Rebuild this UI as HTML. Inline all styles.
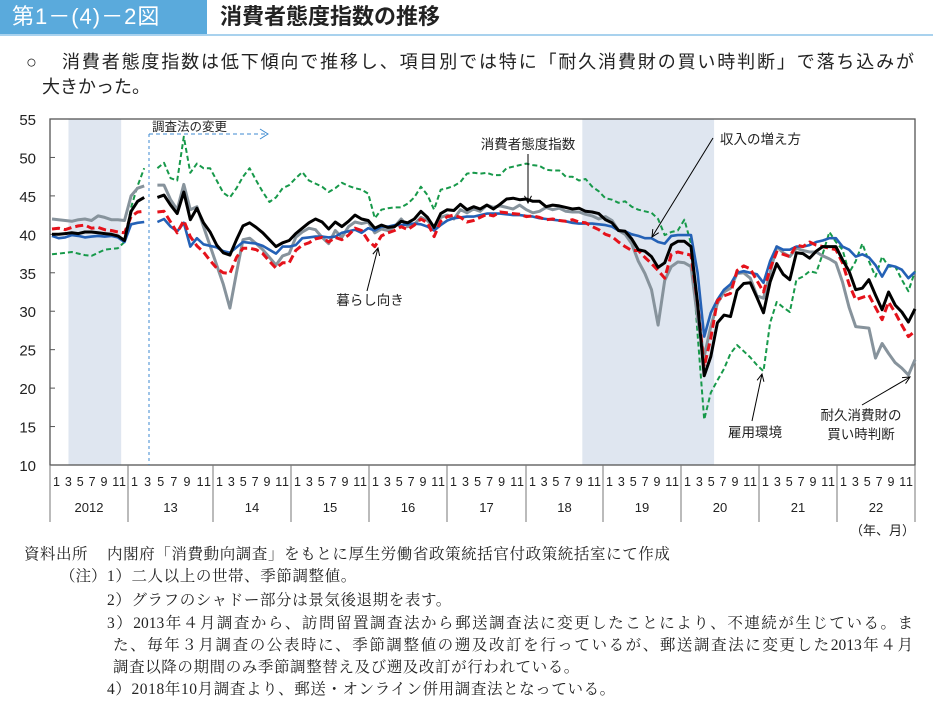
<!DOCTYPE html>
<html><head><meta charset="utf-8">
<style>
body{margin:0;width:933px;height:714px;background:#fff;overflow:hidden;position:relative;font-family:"Liberation Sans","Noto Sans CJK JP",sans-serif;}
.hdr{position:absolute;left:0;top:0;width:207px;height:34px;background:#5aaadc;color:#fff;font-size:22px;line-height:34px;padding-left:12px;box-sizing:border-box;letter-spacing:1px}
.ttl{position:absolute;left:220px;top:0;height:34px;line-height:34px;font-size:22px;color:#222;font-weight:bold}
.rule{position:absolute;left:0;top:34px;width:933px;height:2px;background:#a9d2ee}
.sum{position:absolute;top:50px;font-size:18px;line-height:25px;color:#222;white-space:nowrap}
.fl{position:absolute;font-family:"Liberation Serif","Noto Serif CJK SC",serif;font-size:15.5px;line-height:20px;color:#222;white-space:nowrap}
.just{text-align:justify;text-align-last:justify;white-space:normal}
svg{position:absolute;left:0;top:0}
</style></head><body>
<div class="hdr">第1－(4)－2図</div>
<div class="ttl">消費者態度指数の推移</div>
<div class="rule"></div>
<div class="sum" style="left:26px">○</div>
<div class="sum" style="left:62px;width:852px;text-align:justify;text-align-last:justify;white-space:normal;height:25px;overflow:hidden">消費者態度指数は低下傾向で推移し、項目別では特に「耐久消費財の買い時判断」で落ち込みが</div>
<div class="sum" style="left:42px;top:75px">大きかった。</div>
<svg id="chart" width="933" height="714"></svg>
<div>
<div class="fl" style="left:24px;top:545px;letter-spacing:0.5px">資料出所</div>
<div class="fl" style="left:107px;top:545px;letter-spacing:0.6px">内閣府「消費動向調査」をもとに厚生労働省政策統括官付政策統括室にて作成</div>
<div class="fl" style="left:60px;top:567px">（注）</div>
<div class="fl" style="left:107px;top:567px;letter-spacing:0.6px">1）二人以上の世帯、季節調整値。</div>
<div class="fl" style="left:107px;top:591px;letter-spacing:0.6px">2）グラフのシャドー部分は景気後退期を表す。</div>
<div class="fl just" style="left:107px;top:614px;width:806px;height:20px">3）2013年４月調査から、訪問留置調査法から郵送調査法に変更したことにより、不連続が生じている。ま</div>
<div class="fl just" style="left:113px;top:636px;width:800px;height:20px">た、毎年３月調査の公表時に、季節調整値の遡及改訂を行っているが、郵送調査法に変更した2013年４月</div>
<div class="fl" style="left:113px;top:658px;letter-spacing:0.6px">調査以降の期間のみ季節調整替え及び遡及改訂が行われている。</div>
<div class="fl" style="left:107px;top:680px;letter-spacing:0.6px">4）2018年10月調査より、郵送・オンライン併用調査法となっている。</div>
</div>
<script>
const years = ["2012","13","14","15","16","17","18","19","20","21","22"];
const monthTicks = ["1","3","5","7","9","11"];
const yTicks = [10,15,20,25,30,35,40,45,50,55];
const recessions = [[3,10],[81,100]];
const N = null;
const totalIndex = [40.0,40.0,40.1,40.2,40.1,40.3,40.3,40.2,40.1,40.0,39.8,39.2,
43.0,44.3,44.8,N,44.8,45.1,43.8,42.7,45.5,41.9,43.4,41.5,
40.3,38.6,37.6,37.3,39.3,41.1,41.5,40.9,40.2,39.3,38.4,38.9,
39.2,40.1,40.8,41.5,42.0,41.6,40.7,41.6,41.0,41.7,42.5,42.0,
41.8,40.8,41.2,40.9,41.0,41.7,41.5,42.0,43.0,42.2,40.9,42.7,
43.2,43.1,43.9,43.2,43.6,43.3,43.8,43.3,43.9,44.6,44.7,44.5,
44.6,44.3,44.3,43.6,43.8,43.7,43.5,43.3,43.4,43.0,42.9,42.7,
41.9,41.5,40.5,40.4,39.4,38.0,37.8,37.1,35.7,36.3,38.6,39.1,
39.1,38.4,31.0,21.6,24.1,28.5,29.5,29.3,32.7,33.6,33.7,31.8,
29.8,33.8,36.2,34.8,34.1,37.6,37.5,36.9,37.8,38.4,38.4,38.4,
36.7,35.2,32.8,33.0,34.1,32.1,30.2,32.5,30.8,29.9,28.6,30.3];
const durables = [42.0,41.9,41.8,41.7,41.9,42.0,41.8,42.4,42.2,41.9,41.9,41.8,
45.0,46.0,46.3,N,46.4,46.4,44.5,43.2,46.5,43.2,43.6,41.0,
38.5,36.0,33.5,30.4,35.0,39.3,39.5,38.8,38.0,37.0,36.0,37.2,
37.5,39.6,40.3,40.8,40.6,39.6,38.8,40.5,39.6,41.0,41.6,41.4,
41.6,40.2,40.7,40.5,41.0,42.0,41.0,41.3,42.2,41.8,40.8,42.2,
42.5,42.0,43.2,42.8,43.3,43.0,43.8,43.5,43.7,43.5,43.3,43.8,
43.2,42.8,43.0,43.5,43.2,43.4,43.0,42.9,42.9,42.6,42.4,42.0,
42.3,41.8,40.5,40.0,38.8,36.5,34.9,32.8,28.2,34.0,35.8,36.4,
36.3,35.8,29.0,24.1,28.0,31.0,32.5,33.0,34.9,35.0,34.3,32.0,
31.7,35.0,38.4,37.6,37.1,38.2,37.9,37.7,37.7,37.2,36.8,36.3,
33.8,30.5,28.0,27.9,27.8,23.9,25.8,24.5,23.3,22.6,21.7,23.7];
const livelihood = [40.7,40.8,40.6,40.9,41.1,41.2,40.8,40.9,40.6,40.5,40.3,40.2,
42.3,42.9,43.0,N,42.9,43.0,41.6,40.2,41.8,39.7,38.5,37.7,
36.6,35.6,35.0,34.9,37.0,38.2,38.2,38.0,37.5,36.5,35.6,36.3,
36.3,37.9,38.6,38.9,39.4,39.6,39.0,39.6,39.3,39.9,40.8,40.5,
39.2,38.4,39.8,40.2,40.5,41.0,40.6,41.2,42.0,41.5,39.7,41.7,
42.3,42.5,42.2,41.6,41.8,42.2,42.6,42.4,42.9,42.8,42.7,42.6,
42.3,42.4,42.2,41.9,42.0,41.8,41.7,41.9,41.6,41.5,41.0,40.6,
40.0,39.7,39.0,38.4,37.9,37.9,37.0,36.2,35.3,34.3,37.4,37.7,
37.5,37.3,31.0,22.8,26.5,31.4,32.0,32.3,35.3,35.9,35.5,34.0,
32.5,35.5,37.7,37.4,37.1,38.6,38.4,39.0,38.6,38.4,38.2,38.0,
36.3,33.5,31.5,31.8,32.1,30.5,28.9,31.2,29.8,28.2,26.7,27.4];
const income = [39.8,39.5,39.6,39.9,39.8,39.6,39.7,39.8,39.7,39.8,39.6,39.0,
41.3,41.5,41.6,N,41.6,42.0,41.0,40.4,41.5,38.4,39.5,38.7,
38.5,38.3,37.8,37.6,38.3,39.0,38.9,38.8,38.5,38.0,37.5,38.4,
38.4,38.6,39.5,39.6,39.7,39.7,39.6,39.7,40.2,40.4,40.6,40.2,
40.8,40.5,41.0,41.0,41.2,41.2,41.3,41.4,41.3,41.0,40.5,41.2,
41.8,42.1,42.2,42.3,42.3,42.5,42.7,42.7,42.7,42.6,42.5,42.5,
42.4,42.3,42.1,42.0,41.9,41.8,41.7,41.5,41.4,41.4,41.4,41.3,
41.2,41.0,40.5,40.4,40.0,39.8,39.5,39.5,39.0,38.8,39.8,39.9,
39.9,39.9,35.0,26.7,29.8,31.5,32.8,33.5,35.0,35.2,35.0,34.8,
33.7,36.5,38.4,38.0,38.0,38.4,38.4,38.6,39.0,39.2,39.5,39.5,
38.4,38.0,37.1,37.4,37.0,36.0,34.5,36.0,35.8,35.4,34.3,35.1];
const employment = [37.4,37.5,37.6,37.7,37.5,37.3,37.2,37.6,38.0,38.1,38.2,39.0,
43.5,46.3,48.6,N,48.6,49.3,47.3,47.0,52.7,48.0,49.2,48.6,
48.6,47.0,45.4,44.8,46.0,47.5,48.6,47.0,45.5,44.2,44.8,46.0,
46.4,47.3,48.1,47.0,46.6,46.2,45.5,46.0,46.7,46.3,46.0,45.8,
45.3,42.1,43.2,43.4,43.5,43.5,44.0,44.8,46.2,45.1,43.2,45.8,
46.0,46.3,46.8,47.9,48.0,47.9,48.0,47.7,47.7,48.6,48.8,49.0,
49.2,49.0,48.9,48.4,48.3,48.3,47.5,47.5,47.0,47.2,46.2,45.6,
44.7,44.5,44.1,44.3,43.6,43.2,43.0,42.8,42.0,39.9,40.3,40.5,
41.9,38.8,27.0,15.9,19.4,21.0,22.5,24.5,25.6,24.8,24.0,23.0,
22.2,28.5,31.2,30.5,29.9,34.1,34.5,35.2,35.0,37.5,40.3,39.0,
38.0,35.0,36.5,38.8,36.5,34.5,37.1,35.8,35.8,34.1,32.6,35.2];

const L=50,R=915,T=119,B=465;
const svg=document.getElementById('chart');
const NS='http://www.w3.org/2000/svg';
function xOf(i){return 52+i*(863/131);}
function yOf(v){return B-(v-10)*(B-T)/45;}
function mk(tag,attrs,parent){const e=document.createElementNS(NS,tag);for(const k in attrs)e.setAttribute(k,attrs[k]);(parent||svg).appendChild(e);return e;}

recessions.forEach(r=>{
  const s=mk('rect',{x:xOf(r[0])-3.3,y:T,width:xOf(r[1])-xOf(r[0])+6.6,height:B-T,fill:'#dfe6f0'});
  
  
});
const fr=mk('rect',{x:L,y:T,width:R-L,height:B-T,fill:'none',stroke:'#555','stroke-width':1.3});


yTicks.forEach(v=>{
  const y=yOf(v);
  mk('line',{x1:L,x2:L+5,y1:y,y2:y,stroke:'#555','stroke-width':1});
  const t=mk('text',{x:36,y:y+6,'text-anchor':'end','font-size':15,fill:'#222'});
  t.textContent=v;
  
  
});
const yearStarts=[50,128,213,291,369,447,526,603,681,759,837,915];
for(let k=0;k<yearStarts.length;k++){
  mk('line',{x1:yearStarts[k],x2:yearStarts[k],y1:B,y2:522,stroke:'#777','stroke-width':1});
}
years.forEach((yr,k)=>{
  const a=yearStarts[k],b=yearStarts[k+1];
  const t=mk('text',{x:(a+b)/2,y:512,'text-anchor':'middle','font-size':13,fill:'#222'});
  t.textContent=yr;
  
  
  const g=mk('text',{x:a+3,y:486,'font-size':12.5,fill:'#222',textLength:(b-a-5),lengthAdjust:'spacing'});
  g.textContent=(k===1)?"1 3  5 7 9 11":monthTicks.join(' ');
  
  
});
const unit=mk('text',{x:915,y:535,'text-anchor':'end','font-size':13,fill:'#222'});
unit.textContent='（年、月）';



const vl=mk('line',{x1:149,x2:149,y1:134,y2:B,stroke:'#3c8ad0','stroke-width':1,'stroke-dasharray':'3,3'});


mk('line',{x1:149,x2:268,y1:134,y2:134,stroke:'#3c8ad0','stroke-width':1,'stroke-dasharray':'4,3'});
mk('polyline',{points:'260,129 268,134 260,139',fill:'none',stroke:'#3c8ad0','stroke-width':1});
const st=mk('text',{x:152,y:131,'font-size':12.5,fill:'#222'});
st.textContent='調査法の変更';



function series(data,color,w,dash,name){
  let segs=[],cur=[];
  data.forEach((v,i)=>{ if(v===null){if(cur.length)segs.push(cur);cur=[];} else cur.push(xOf(i).toFixed(1)+','+yOf(v).toFixed(1)); });
  if(cur.length)segs.push(cur);
  segs.forEach(s=>{
    const p=mk('polyline',{points:s.join(' '),fill:'none',stroke:color,'stroke-width':w,'stroke-linejoin':'round'});
    if(dash)p.setAttribute('stroke-dasharray',dash);
    
    
  });
}
series(employment,'#17994a',2,'5,3','employment-line');
series(durables,'#87939c',3,null,'durables-line');
series(income,'#2461b6',2.6,null,'income-line');
series(livelihood,'#e5121b',3,'8,4','livelihood-line');
series(totalIndex,'#000',3,null,'consumer-confidence-line');

function note(lines,x,y,anchor,name){
  lines.forEach((s,k)=>{
    const t=mk('text',{x:x,y:y+k*19,'text-anchor':anchor,'font-size':13.5,fill:'#222'});
    t.textContent=s;
    
    
  });
}
function arrow(x1,y1,x2,y2){
  mk('line',{x1:x1,y1:y1,x2:x2,y2:y2,stroke:'#000','stroke-width':1});
  const a=Math.atan2(y2-y1,x2-x1),l=8,s=0.45;
  mk('polyline',{points:`${x2-l*Math.cos(a-s)},${y2-l*Math.sin(a-s)} ${x2},${y2} ${x2-l*Math.cos(a+s)},${y2-l*Math.sin(a+s)}`,fill:'none',stroke:'#000','stroke-width':1});
}
note(['消費者態度指数'],528,149,'middle','annotation-total');
arrow(528,154,528,203);
note(['収入の増え方'],720,144,'start','annotation-income');
arrow(713,138,652,237);
note(['暮らし向き'],370,305,'middle','annotation-livelihood');
arrow(367,291,378,248);
note(['雇用環境'],755,437,'middle','annotation-employment');
arrow(752,421,762,374);
note(['耐久消費財の','買い時判断'],861,420,'middle','annotation-durables');
arrow(862,405,910,377);
</script>
</body></html>
